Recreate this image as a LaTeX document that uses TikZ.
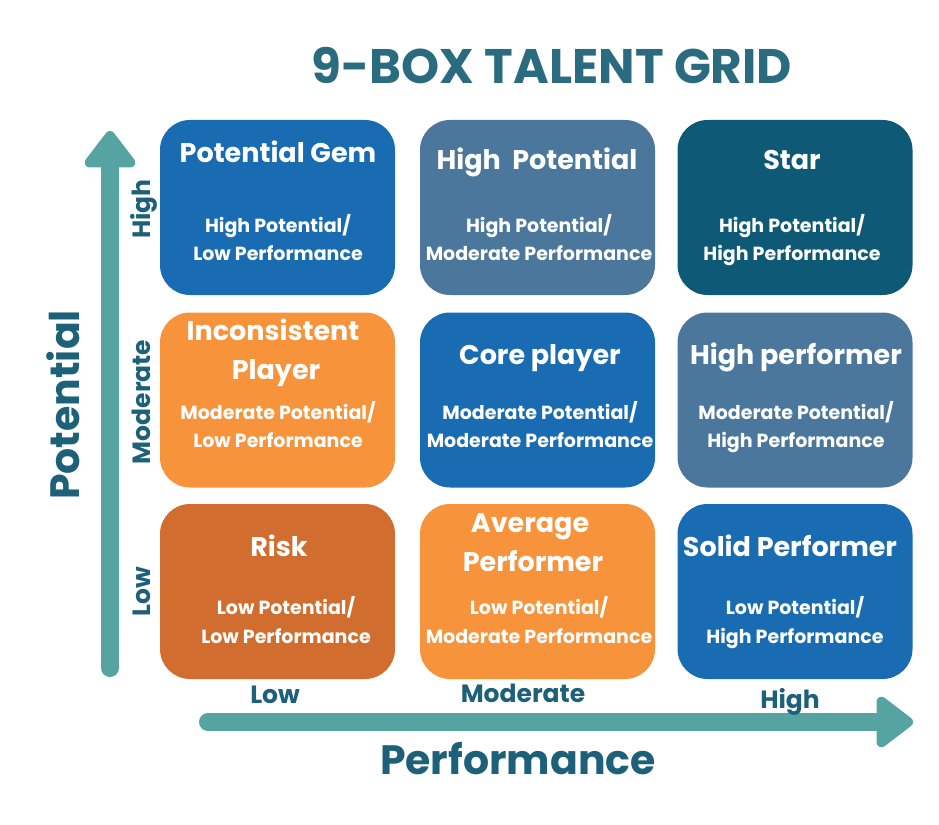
\documentclass[tikz,border=0pt]{standalone}
\usepackage{fontspec}
\setmainfont{Poppins}
\usetikzlibrary{arrows.meta}
\definecolor{TitleClr}{HTML}{2A6B80}
\definecolor{AxisClr}{HTML}{1C6079}
\definecolor{ArrowClr}{HTML}{56A4A2}
\definecolor{BlueClr}{HTML}{1A6CB2}
\definecolor{SlateClr}{HTML}{4B779C}
\definecolor{StarClr}{HTML}{0E5A76}
\definecolor{OrangeClr}{HTML}{F7933B}
\definecolor{RustClr}{HTML}{D16D2F}

\begin{document}
\begin{tikzpicture}[x=1pt,y=-1pt,
  cell/.style={rounded corners=30pt,minimum width=235pt,minimum height=175pt,inner sep=0pt},
  celltitle/.style={anchor=base,text=white,font=\fontsize{27}{30}\selectfont\bfseries},
  cellsub/.style={anchor=base,text=white,font=\fontsize{19}{21}\selectfont\bfseries},
  level/.style={anchor=base,text=AxisClr,font=\fontsize{25}{27}\selectfont\bfseries},
  axisname/.style={anchor=base,text=AxisClr,font=\fontsize{41}{43}\selectfont\bfseries},
  axisarrow/.style={draw=ArrowClr,line width=18pt,line cap=round,-{Triangle[width=58pt,length=40pt,round]}}]
\useasboundingbox (0,0) rectangle (939,824);

\node[anchor=base,text=TitleClr,font=\fontsize{48.5}{50}\selectfont\bfseries] (title) at (552,84) {9-BOX TALENT GRID};

% axes
\coordinate (potlow) at (110,668);
\coordinate (pothigh) at (110,131);
\coordinate (perflow) at (208,722);
\coordinate (perfhigh) at (913,722);
\draw[axisarrow] (potlow) -- (pothigh);
\draw[axisarrow] (perflow) -- (perfhigh);

\node[axisname,rotate=90] (potential) at (79,405) {Potential};
\node[axisname] (performance) at (518,774) {Performance};

\node[level,rotate=90] (vhigh) at (150,209) {High};
\node[level,rotate=90] (vmod) at (150,402) {Moderate};
\node[level,rotate=90] (vlow) at (150,592) {Low};
\node[level] (hlow) at (275,703) {Low};
\node[level] (hmod) at (523,702) {Moderate};
\node[level] (hhigh) at (790,708) {High};

% top row
\node[cell,fill=BlueClr] (gem) at (277.5,207.5) {};
\node[cell,fill=SlateClr] (highpot) at (537.5,207.5) {};
\node[cell,fill=StarClr] (star) at (795,207.5) {};
\node[celltitle] at (278,162) {Potential Gem};
\node[celltitle] at (537,169) {High\ \ Potential};
\node[celltitle] at (792,169) {Star};
\node[cellsub] at (278,232) {High Potential/};
\node[cellsub] at (278,260) {Low Performance};
\node[cellsub] at (539,232) {High Potential/};
\node[cellsub] at (539,260) {Moderate Performance};
\node[cellsub] at (792,232) {High Potential/};
\node[cellsub] at (792,260) {High Performance};

% middle row
\node[cell,fill=OrangeClr] (incons) at (277.5,400) {};
\node[cell,fill=BlueClr] (core) at (537.5,400) {};
\node[cell,fill=SlateClr] (highperf) at (795,400) {};
\node[celltitle] at (273,340) {Inconsistent};
\node[celltitle] at (276,379) {Player};
\node[celltitle] at (540,364) {Core player};
\node[celltitle] at (796,364) {High performer};
\node[cellsub] at (278,419) {Moderate Potential/};
\node[cellsub] at (278,447) {Low Performance};
\node[cellsub] at (540,419) {Moderate Potential/};
\node[cellsub] at (540,447) {Moderate Performance};
\node[cellsub] at (796,419) {Moderate Potential/};
\node[cellsub] at (796,447) {High Performance};

% bottom row
\node[cell,fill=RustClr] (risk) at (277.5,591.5) {};
\node[cell,fill=OrangeClr] (average) at (537.5,591.5) {};
\node[cell,fill=BlueClr] (solid) at (795,591.5) {};
\node[celltitle] at (279,556) {Risk};
\node[celltitle] at (530,532) {Average};
\node[celltitle] at (533,571) {Performer};
\node[celltitle] at (790,556) {Solid Performer};
\node[cellsub] at (286,614) {Low Potential/};
\node[cellsub] at (286,643) {Low Performance};
\node[cellsub] at (539,614) {Low Potential/};
\node[cellsub] at (539,643) {Moderate Performance};
\node[cellsub] at (795,614) {Low Potential/};
\node[cellsub] at (795,643) {High Performance};

\end{tikzpicture}
\end{document}
